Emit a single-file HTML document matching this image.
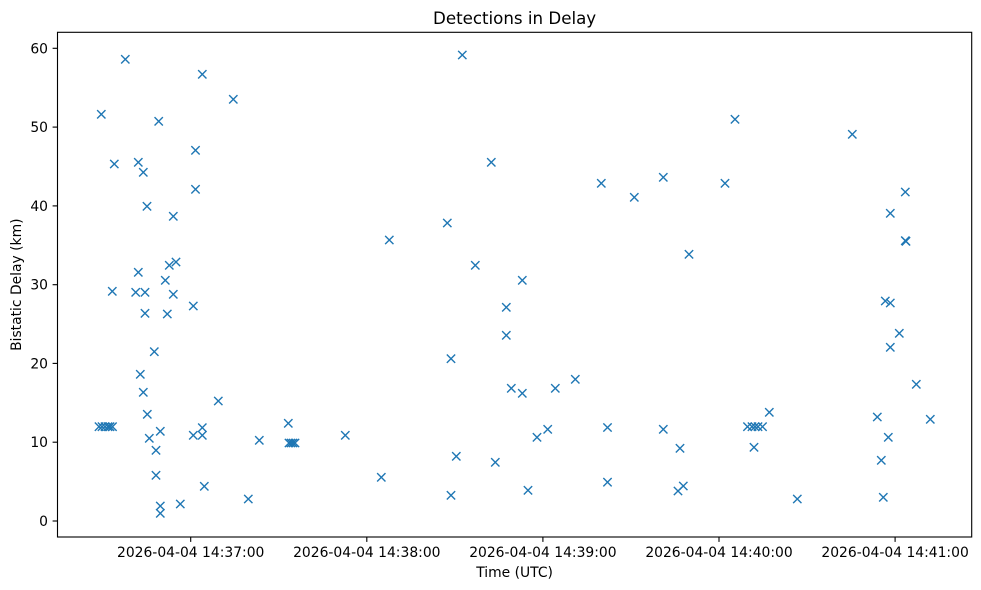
<!DOCTYPE html>
<html>
<head>
<meta charset="utf-8">
<style>
html,body{margin:0;padding:0;background:#fff;}
svg{display:block;}
text{font-family:"DejaVu Sans","Liberation Sans",sans-serif;fill:#000;}
</style>
</head>
<body>
<svg width="981" height="590" viewBox="0 0 981 590" xmlns="http://www.w3.org/2000/svg">
<defs>
<path id="m" d="M-4.17,-4.17 L4.17,4.17 M-4.17,4.17 L4.17,-4.17" stroke="#1f77b4" stroke-width="1.39" fill="none"/>
</defs>
<rect x="0" y="0" width="981" height="590" fill="#fff"/>
<text x="514.6" y="24" font-size="16.67" text-anchor="middle">Detections in Delay</text>
<g>
<use href="#m" x="101.3" y="114.3"/>
<use href="#m" x="125.3" y="59.3"/>
<use href="#m" x="158.7" y="121.3"/>
<use href="#m" x="202.3" y="74.3"/>
<use href="#m" x="233.3" y="99.3"/>
<use href="#m" x="195.5" y="150.3"/>
<use href="#m" x="114.3" y="164"/>
<use href="#m" x="138.3" y="162.3"/>
<use href="#m" x="143.3" y="172.3"/>
<use href="#m" x="195.5" y="189.3"/>
<use href="#m" x="147" y="206.3"/>
<use href="#m" x="173.3" y="216.3"/>
<use href="#m" x="176" y="262"/>
<use href="#m" x="169.3" y="265.3"/>
<use href="#m" x="138.3" y="272.3"/>
<use href="#m" x="165.3" y="280.3"/>
<use href="#m" x="112.3" y="291.3"/>
<use href="#m" x="135.7" y="292.3"/>
<use href="#m" x="145" y="292.3"/>
<use href="#m" x="173.3" y="294.3"/>
<use href="#m" x="193.3" y="306"/>
<use href="#m" x="145" y="313.3"/>
<use href="#m" x="167.3" y="314"/>
<use href="#m" x="154.3" y="351.7"/>
<use href="#m" x="140.3" y="374.3"/>
<use href="#m" x="143.3" y="392.3"/>
<use href="#m" x="218.3" y="401"/>
<use href="#m" x="147.3" y="414.3"/>
<use href="#m" x="99" y="426.7"/>
<use href="#m" x="102" y="426.7"/>
<use href="#m" x="105" y="426.7"/>
<use href="#m" x="108" y="426.7"/>
<use href="#m" x="110" y="426.7"/>
<use href="#m" x="112.5" y="426.7"/>
<use href="#m" x="160.3" y="431.3"/>
<use href="#m" x="202.3" y="427.7"/>
<use href="#m" x="149.3" y="438.3"/>
<use href="#m" x="193.3" y="435.3"/>
<use href="#m" x="202.3" y="435.3"/>
<use href="#m" x="156" y="450.3"/>
<use href="#m" x="156" y="475.3"/>
<use href="#m" x="204.3" y="486.3"/>
<use href="#m" x="248.3" y="499"/>
<use href="#m" x="180.3" y="504"/>
<use href="#m" x="160.3" y="506"/>
<use href="#m" x="160.3" y="513.3"/>
<use href="#m" x="288.3" y="423.3"/>
<use href="#m" x="259.3" y="440.3"/>
<use href="#m" x="289" y="443"/>
<use href="#m" x="291" y="443"/>
<use href="#m" x="293" y="443"/>
<use href="#m" x="295" y="443"/>
<use href="#m" x="345.3" y="435.3"/>
<use href="#m" x="381.3" y="477.3"/>
<use href="#m" x="389.3" y="240"/>
<use href="#m" x="447.3" y="223"/>
<use href="#m" x="462.3" y="55"/>
<use href="#m" x="491.3" y="162.3"/>
<use href="#m" x="475.3" y="265.3"/>
<use href="#m" x="522.3" y="280.3"/>
<use href="#m" x="506.3" y="307.3"/>
<use href="#m" x="506.3" y="335.3"/>
<use href="#m" x="451" y="358.7"/>
<use href="#m" x="511.3" y="388.3"/>
<use href="#m" x="522.3" y="393.3"/>
<use href="#m" x="555.3" y="388.3"/>
<use href="#m" x="575.3" y="379.3"/>
<use href="#m" x="547.7" y="429.3"/>
<use href="#m" x="537" y="437.3"/>
<use href="#m" x="607.5" y="427.5"/>
<use href="#m" x="456.3" y="456.3"/>
<use href="#m" x="495.3" y="462.3"/>
<use href="#m" x="528" y="490.3"/>
<use href="#m" x="451" y="495.3"/>
<use href="#m" x="607.5" y="482.2"/>
<use href="#m" x="735" y="119.3"/>
<use href="#m" x="601.3" y="183.3"/>
<use href="#m" x="663.3" y="177.3"/>
<use href="#m" x="725" y="183.3"/>
<use href="#m" x="634.3" y="197.3"/>
<use href="#m" x="689" y="254.3"/>
<use href="#m" x="663.3" y="429.3"/>
<use href="#m" x="680" y="448.3"/>
<use href="#m" x="683.3" y="486"/>
<use href="#m" x="678" y="491"/>
<use href="#m" x="769.3" y="412.3"/>
<use href="#m" x="747.5" y="426.7"/>
<use href="#m" x="752" y="426.7"/>
<use href="#m" x="755" y="426.7"/>
<use href="#m" x="758" y="426.7"/>
<use href="#m" x="762.5" y="426.7"/>
<use href="#m" x="754" y="447.3"/>
<use href="#m" x="797.3" y="499"/>
<use href="#m" x="852.3" y="134.3"/>
<use href="#m" x="905.3" y="192"/>
<use href="#m" x="890.3" y="213.3"/>
<use href="#m" x="905.3" y="240.7"/>
<use href="#m" x="906" y="241.3"/>
<use href="#m" x="885.3" y="301"/>
<use href="#m" x="890.3" y="303"/>
<use href="#m" x="899.3" y="333.3"/>
<use href="#m" x="890.3" y="347.3"/>
<use href="#m" x="916.3" y="384.3"/>
<use href="#m" x="877.3" y="417"/>
<use href="#m" x="930.3" y="419.3"/>
<use href="#m" x="888.3" y="437.3"/>
<use href="#m" x="881.3" y="460.3"/>
<use href="#m" x="883.3" y="497.3"/>
</g>
<rect x="57.5" y="32.3" width="914.2" height="504.7" fill="none" stroke="#000" stroke-width="1.11"/>
<g stroke="#000" stroke-width="1.11">
<line x1="52.6" y1="521" x2="57.5" y2="521"/>
<line x1="52.6" y1="442.2" x2="57.5" y2="442.2"/>
<line x1="52.6" y1="363.4" x2="57.5" y2="363.4"/>
<line x1="52.6" y1="284.7" x2="57.5" y2="284.7"/>
<line x1="52.6" y1="205.9" x2="57.5" y2="205.9"/>
<line x1="52.6" y1="127.1" x2="57.5" y2="127.1"/>
<line x1="52.6" y1="48.3" x2="57.5" y2="48.3"/>
<line x1="190.7" y1="537" x2="190.7" y2="541.9"/>
<line x1="366.8" y1="537" x2="366.8" y2="541.9"/>
<line x1="542.9" y1="537" x2="542.9" y2="541.9"/>
<line x1="719.0" y1="537" x2="719.0" y2="541.9"/>
<line x1="895.1" y1="537" x2="895.1" y2="541.9"/>
</g>
<g font-size="13.89" text-anchor="end">
<text x="48" y="526">0</text>
<text x="48" y="447.2">10</text>
<text x="48" y="368.4">20</text>
<text x="48" y="289.7">30</text>
<text x="48" y="210.9">40</text>
<text x="48" y="132.1">50</text>
<text x="48" y="53.3">60</text>
</g>
<g font-size="13.89" text-anchor="middle">
<text x="190.7" y="557">2026-04-04 14:37:00</text>
<text x="366.8" y="557">2026-04-04 14:38:00</text>
<text x="542.9" y="557">2026-04-04 14:39:00</text>
<text x="719.0" y="557">2026-04-04 14:40:00</text>
<text x="895.1" y="557">2026-04-04 14:41:00</text>
</g>
<text x="514.6" y="577" font-size="13.89" text-anchor="middle">Time (UTC)</text>
<text x="0" y="0" font-size="13.89" text-anchor="middle" transform="translate(21,284.7) rotate(-90)">Bistatic Delay (km)</text>
</svg>
</body>
</html>
